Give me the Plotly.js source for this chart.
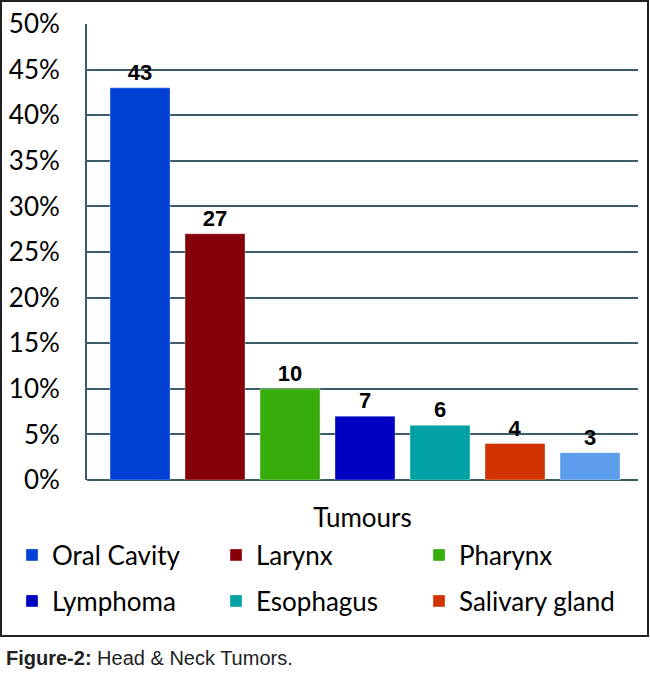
<!DOCTYPE html>
<html>
<head>
<meta charset="utf-8">
<script src="https://cdn.plot.ly/plotly-3.0.1.min.js"></script>
<style>
  html, body { margin: 0; padding: 0; background: #fff; }
  #chart { width: 650px; height: 677px; }
</style>
</head>
<body>
<div id="chart"></div>
<script>
// Tumour categories and share (%)
const categories = ['Oral Cavity', 'Larynx', 'Pharynx', 'Lymphoma', 'Esophagus', 'Salivary gland', 'Others'];
const values = [43, 27, 10, 7, 6, 4, 3];
const colors = ['#0040d6', '#850008', '#36ad0b', '#0000c2', '#00a0a5', '#d13400', '#5c9ded'];
const inLegend = [true, true, true, true, true, true, false];
const yTicks = [0, 5, 10, 15, 20, 25, 30, 35, 40, 45, 50];

// plot area in pixels: left 87, right 638, top 24, bottom 480
const L = 87, R = 638, T = 24, B = 480;
const px = x => (x - L) / (R - L);
const py = y => (B - y) / (B - T);

const gridColor = '#3c5c68';
const mainFont = 'Lato, "Open Sans", sans-serif';

// legend slots: 3 columns x 2 rows (legend left x, row centre y)
const legendCols = [12, 216, 419];
const legendRows = [555, 601];

const data = categories.map((name, i) => ({
    type: 'bar',
    name: name,
    x: [name],
    y: [values[i]],
    marker: { color: colors[i], line: { color: 'rgba(255,255,255,0.35)', width: 1 } },
    text: [String(values[i])],
    textposition: 'outside',
    cliponaxis: false,
    textfont: { family: '"Liberation Sans", Arial, sans-serif', size: 22, color: '#000', weight: 'bold' },
    showlegend: inLegend[i],
    legend: i === 0 ? 'legend' : 'legend' + (i + 1),
    hoverinfo: 'none'
}));

const layout = {
    width: 650,
    height: 677,
    margin: { l: L, r: 650 - R, t: T, b: 677 - B },
    paper_bgcolor: '#fff',
    plot_bgcolor: '#fff',
    showlegend: true,
    barmode: 'overlay',
    bargap: 0.2,
    xaxis: {
        type: 'category',
        range: [-0.707, 6.64],
        showticklabels: false,
        showgrid: false,
        zeroline: false,
        showline: false,
        title: {
            text: 'Tumours',
            font: { family: mainFont, size: 26, color: '#000' },
            standoff: 28
        }
    },
    yaxis: {
        range: [0, 50],
        tickvals: yTicks,
        ticktext: yTicks.map(v => v + '%'),
        tickfont: { family: mainFont, size: 26, color: '#000' },
        ticklabelstandoff: 20,
        showgrid: true,
        gridcolor: gridColor,
        gridwidth: 2,
        zeroline: true,
        zerolinecolor: gridColor,
        zerolinewidth: 2,
        showline: true,
        linecolor: gridColor,
        linewidth: 2,
        fixedrange: true
    },
    shapes: [{
        type: 'rect',
        xref: 'paper', yref: 'paper',
        x0: px(1), x1: px(648), y0: py(636), y1: py(1),
        line: { color: '#222', width: 2 },
        fillcolor: 'rgba(0,0,0,0)',
        layer: 'below'
    }],
    annotations: [{
        xref: 'paper', yref: 'paper',
        x: px(4), y: py(658),
        xanchor: 'left', yanchor: 'middle',
        showarrow: false,
        text: '<b>Figure-2:</b> Head &amp; Neck Tumors.',
        font: { family: '"Liberation Sans", Arial, sans-serif', size: 20, color: '#222' }
    }]
};

// one small legend per entry so the 3x2 grid sits where the reference has it
for (let i = 0; i < 6; i++) {
    const key = i === 0 ? 'legend' : 'legend' + (i + 1);
    layout[key] = {
        visible: true,
        orientation: 'h',
        x: px(legendCols[i % 3]),
        xanchor: 'left',
        y: py(legendRows[Math.floor(i / 3)]),
        yanchor: 'middle',
        font: { family: mainFont, size: 26, color: '#000' },
        bgcolor: 'rgba(0,0,0,0)'
    };
}

Plotly.newPlot('chart', data, layout, { displayModeBar: false, staticPlot: true });
</script>
</body>
</html>
